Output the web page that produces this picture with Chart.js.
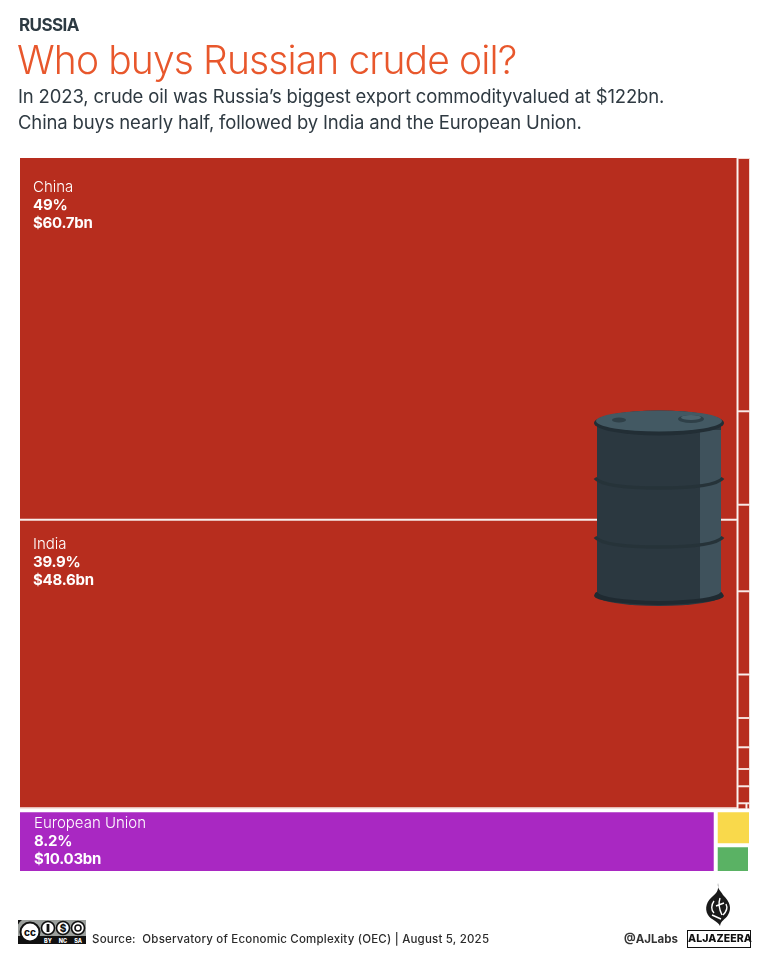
<!DOCTYPE html>
<html>
<head>
<meta charset="utf-8">
<title>Who buys Russian crude oil?</title>
<script src="https://cdn.jsdelivr.net/npm/chart.js@4"></script>
<style>
  html, body { margin: 0; padding: 0; background: #fff; }
  body { width: 770px; height: 962px; position: relative; overflow: hidden; font-family: Inter, sans-serif; }
  #plot { position: absolute; left: 0; top: 0; }
  .t { position: absolute; white-space: nowrap; }
  .kicker { left: 19px; top: 15px; font-size: 17px; line-height: 21px; font-weight: 700; color: #2d3a42; letter-spacing: -0.6px; }
  h1 { position: absolute; margin: 0; left: 17px; top: 37px; font-size: 39px; line-height: 46px; font-weight: 300; color: #e8572c; letter-spacing: -0.88px; white-space: nowrap; }
  .sub { left: 18px; font-size: 18.5px; line-height: 24px; font-weight: 400; color: #2f3a42; letter-spacing: -0.16px; }
  .lab { color: #fff; font-size: 15px; line-height: 18px; font-weight: 300; letter-spacing: 0; }
  .lab b { font-weight: 700; display: block; letter-spacing: -0.25px; }
  .src { left: 92px; top: 932px; font-size: 11.5px; line-height: 14px; font-weight: 500; color: #2b2b2b; letter-spacing: 0.2px; }
  .aj { left: 624px; top: 932px; font-size: 11.5px; line-height: 14px; font-weight: 700; color: #333; }
  .ajbox { left: 687px; top: 930px; width: 62px; height: 16px; border: 1.5px solid #111; font-size: 10.5px; line-height: 16px; font-weight: 800; color: #111; text-align: center; letter-spacing: 0.1px; }
  svg { position: absolute; }
</style>
</head>
<body>
<canvas id="plot" width="770" height="962"></canvas>

<div class="t kicker">RUSSIA</div>
<h1>Who buys Russian crude oil?</h1>
<div class="t sub" style="top:84px">In 2023, crude oil was Russia’s biggest export commodityvalued at $122bn.</div>
<div class="t sub" style="top:110px">China buys nearly half, followed by India and the European Union.</div>

<div class="t lab" style="left:33px;top:178px">China<b>49%</b><b>$60.7bn</b></div>
<div class="t lab" style="left:33px;top:535px">India<b>39.9%</b><b>$48.6bn</b></div>
<div class="t lab" style="left:34px;top:814px">European Union<b>8.2%</b><b>$10.03bn</b></div>

<!-- oil barrel -->
<svg style="left:590px;top:405px" width="140" height="205" viewBox="590 405 140 205">
  <path d="M597 422 V596 A62 10 0 0 0 721 596 V422 Z" fill="#2b3840"/>
  <path d="M700 430 H721 V596 Q712 600 700 602 Z" fill="#3f525c"/>
  <path d="M594 596 Q596 603 659 605 Q722 603 724 596 Q722 592 721 592 Q715 600 659 601 Q603 600 597 592 Q595 592 594 596 Z" fill="#1f2a31"/>
  <path d="M595 478 Q603 488 659 488 Q715 488 723 478" fill="none" stroke="#263339" stroke-width="3.5"/>
  <path d="M595 537 Q603 547 659 547 Q715 547 723 537" fill="none" stroke="#263339" stroke-width="3.5"/>
  <ellipse cx="659" cy="423" rx="65" ry="12.5" fill="#222e35"/>
  <ellipse cx="659" cy="421" rx="63" ry="10.5" fill="#435963"/>
  <ellipse cx="619" cy="420" rx="7" ry="2.5" fill="#2f4048"/>
  <ellipse cx="691" cy="419" rx="13" ry="4" fill="#2f4048"/>
  <ellipse cx="691" cy="417.5" rx="10" ry="2.5" fill="#4c636d"/>
</svg>

<!-- cc badge -->
<svg style="left:18px;top:920px" width="68" height="24" viewBox="0 0 68 24">
  <rect width="68" height="24" fill="#9b9f9c"/>
  <rect y="16" width="68" height="8" fill="#111"/>
  <path d="M0 0 H4 A12 12 0 0 0 20 22 L22 24 H0 Z" fill="#111"/>
  <circle cx="12" cy="12" r="9.5" fill="#fff" stroke="#111" stroke-width="2"/>
  <text x="12" y="15.5" font-size="10" font-weight="800" text-anchor="middle" fill="#111" font-family="Inter">cc</text>
  <circle cx="30" cy="8" r="6.5" fill="#fff" stroke="#111" stroke-width="1.6"/>
  <rect x="28.6" y="4" width="2.8" height="8" fill="#111"/>
  <circle cx="45" cy="8" r="6.5" fill="#fff" stroke="#111" stroke-width="1.6"/>
  <text x="45" y="11.5" font-size="10" font-weight="800" text-anchor="middle" fill="#111" font-family="Inter">$</text>
  <circle cx="60" cy="8" r="6.5" fill="#fff" stroke="#111" stroke-width="1.6"/>
  <circle cx="60" cy="8" r="3" fill="none" stroke="#111" stroke-width="1.6"/>
  <text x="30" y="23" font-size="5.5" font-weight="800" text-anchor="middle" fill="#fff" font-family="Inter">BY</text>
  <text x="45" y="23" font-size="5.5" font-weight="800" text-anchor="middle" fill="#fff" font-family="Inter">NC</text>
  <text x="60" y="23" font-size="5.5" font-weight="800" text-anchor="middle" fill="#fff" font-family="Inter">SA</text>
</svg>
<div class="t src">Source:&nbsp; Observatory of Economic Complexity (OEC) | August 5, 2025</div>
<div class="t aj">@AJLabs</div>
<div class="t ajbox">ALJAZEERA</div>

<!-- aljazeera flame mark -->
<svg style="left:700px;top:882px" width="36" height="46" viewBox="0 0 36 46">
  <path d="M18 1 C17 7 21 9 23 13 C30 20 32 26 28 33 C25 38 21 38 20 44 C18 39 11 38 8 33 C4 26 7 19 13 14 C17 11 19 7 18 1 Z" fill="#1a1a1a"/>
  <path d="M14 19 C11 23 11 28 14 31 M20 16 C18 22 19 27 22 33 M26 22 C28 26 26 30 23 33 M16 24 L24 21 M12 33 L21 37" fill="none" stroke="#fff" stroke-width="1.4"/>
</svg>

<script>
// values in $bn (only the top three are printed on it)
const mainBuyers = ["China", "India"];
const mainValues = [60.7, 48.6];
const stripValues = [0.739, 0.273, 0.252, 0.243, 0.127, 0.085, 0.064, 0.05, 0.05];
const tinyValues = [0.0125, 0.005];
const euValue = [10.03];
const otherValues = [0.287, 0.207];

const RED = "#b72d1e";
const PURPLE = "#a928c2";
const YELLOW = "#f9d94b";
const GREEN = "#5ab264";

const sum = (arr) => arr.reduce((a, b) => a + b, 0);

const mainTotal = sum(mainValues);
const stripTotal = sum(stripValues) + sum(tinyValues);
const redTotal = mainTotal + stripTotal;
const otherTotal = euValue[0] + sum(otherValues);
const grandTotal = redTotal + otherTotal;

// treemap layout: both axes run 0..grandTotal, so area stays proportional to value
const redBottom = redTotal;
const mainRight = grandTotal * mainTotal / redTotal;
const euRight = grandTotal * euValue[0] / otherTotal;

/* stacks values top to bottom inside a column */
const column = (values, x0, x1, y0, y1) => {
    const total = sum(values);
    let y = y0;
    return values.map((v) => {
        const next = y + (y1 - y0) * v / total;
        const cell = { x: (x0 + x1) / 2, x0: x0, x1: x1, y: [y, next] };
        y = next;
        return cell;
    });
};

/* same thing, left to right inside a row */
const row = (values, x0, x1, y0, y1) => {
    const total = sum(values);
    let x = x0;
    return values.map((v) => {
        const next = x + (x1 - x0) * v / total;
        const cell = { x: (x + next) / 2, x0: x, x1: next, y: [y0, y1] };
        x = next;
        return cell;
    });
};

const stripBottom = redBottom * sum(stripValues) / stripTotal;
const stripCells = column(stripValues, mainRight, grandTotal, 0, stripBottom);
const tinyCells = row(tinyValues, mainRight, grandTotal, stripBottom, redBottom);

// a bar whose width comes from its own x0/x1 range instead of a category slot
class TreemapBarController extends Chart.BarController {
    _calculateBarIndexPixels(index) {
        const d = this.getDataset().data[index];
        const xScale = this._cachedMeta.iScale;
        const left = xScale.getPixelForValue(d.x0);
        const right = xScale.getPixelForValue(d.x1);
        return { base: left, head: right, center: (left + right) / 2, size: right - left };
    }
}
TreemapBarController.id = "treemapBar";
Chart.register(TreemapBarController);

const datasets = [
    {
        label: "China, India",
        data: column(mainValues, 0, mainRight, 0, redBottom),
        backgroundColor: RED,
        borderColor: "#f3e3df",
        borderWidth: [{ left: 0, top: 0, right: 1, bottom: 1 }, { left: 0, top: 1, right: 1, bottom: 2 }]
    },
    {
        label: "Other buyers",
        data: stripCells.concat(tinyCells),
        backgroundColor: RED,
        borderColor: "#f3d9d3",
        borderWidth: { left: 1, top: 1, right: 1, bottom: 1 }
    },
    {
        label: "European Union",
        data: row(euValue, 0, euRight, redBottom, grandTotal),
        backgroundColor: PURPLE,
        borderColor: "#ffffff",
        borderWidth: { left: 0, top: 3, right: 2, bottom: 0 }
    },
    {
        label: "Other regions",
        data: column(otherValues, euRight, grandTotal, redBottom, grandTotal),
        backgroundColor: [YELLOW, GREEN],
        borderColor: "#ffffff",
        borderWidth: [{ left: 2, top: 3, right: 1, bottom: 2 }, { left: 2, top: 2, right: 2, bottom: 0 }]
    }
];

new Chart(document.getElementById("plot"), {
    type: "treemapBar",
    data: { datasets: datasets },
    options: {
        responsive: false,
        animation: false,
        devicePixelRatio: 1,
        grouped: false,
        borderSkipped: false,
        layout: { padding: { left: 20, right: 20, top: 158, bottom: 91 } },
        plugins: { legend: { display: false }, tooltip: { enabled: false } },
        scales: {
            x: { type: "linear", display: false, offset: false, min: 0, max: grandTotal, grid: { display: false } },
            y: { type: "linear", display: false, reverse: true, min: 0, max: grandTotal, grid: { display: false } }
        }
    }
});
</script>
</body>
</html>
